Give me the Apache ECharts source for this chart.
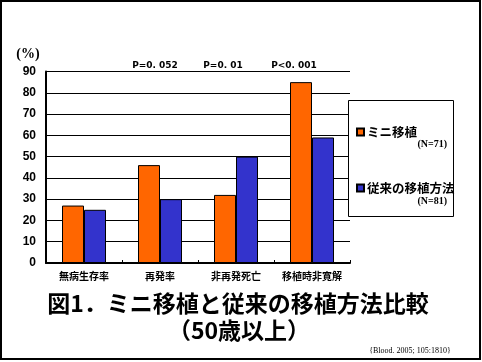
<!DOCTYPE html>
<html><head><meta charset="utf-8">
<script src="https://cdn.jsdelivr.net/npm/echarts@6/dist/echarts.min.js"></script>
<style>html,body{margin:0;padding:0;background:#fff}#c{width:482px;height:362px}</style>
</head><body><div id="c"></div>
<script>
const categories = ['無病生存率', '再発率', '非再発死亡', '移植時非寛解'];
const miniValues = [27, 46, 32, 85];
const convValues = [25, 30, 50, 59];
const seriesNames = ['ミニ移植', '従来の移植方法'];
const nLabels = ['(N=71)', '(N=81)'];
const pLabels = ['P=0. 052', 'P=0. 01', 'P<0. 001'];
const yMin = 0, yMax = 90, yStep = 10;

const chart = echarts.init(document.getElementById('c'), null, {renderer: 'canvas'});
const jp = '"Noto Sans CJK JP", sans-serif';
chart.setOption({
  animation: false,
  backgroundColor: '#fff',
  grid: {left: 46, right: 132, top: 71.5, bottom: 99, containLabel: false},
  xAxis: {
    type: 'category', data: categories,
    axisLine: {lineStyle: {color: '#000', width: 2}},
    axisTick: {show: true, inside: true, length: 3, lineStyle: {color: '#000'}},
    axisLabel: {interval: 0, color: '#000', fontFamily: jp, fontWeight: 'bold', fontSize: 10, margin: 8}
  },
  yAxis: {
    type: 'value', min: yMin, max: yMax, interval: yStep,
    axisLine: {show: true, lineStyle: {color: '#000', width: 2}},
    axisTick: {show: false},
    splitLine: {lineStyle: {color: '#000', width: 1}},
    axisLabel: {color: '#000', fontFamily: '"Liberation Sans", Arial, sans-serif', fontWeight: 'bold', fontSize: 12, margin: 10}
  },
  legend: {
    orient: 'vertical', left: 351, top: 120, z: 5,
    itemWidth: 7, itemHeight: 7, itemGap: 42,
    icon: 'rect',
    textStyle: {color: '#000', fontFamily: jp, fontWeight: 'bold', fontSize: 12.5, lineHeight: 14, padding: [0,0,0,-2]},
    data: seriesNames
  },
  series: [
    {name: seriesNames[0], type: 'bar', data: miniValues, barWidth: 22, barGap: '0%',
     itemStyle: {color: '#FF6600', borderColor: '#000', borderWidth: 1}},
    {name: seriesNames[1], type: 'bar', data: convValues, barWidth: 22,
     itemStyle: {color: '#3333CC', borderColor: '#000', borderWidth: 1}}
  ],
  graphic: [
    {type: 'rect', z: 0, shape: {x: 1, y: 1, width: 479, height: 358}, style: {fill: 'none', stroke: '#000', lineWidth: 2}},
    {type: 'rect', z: 4, shape: {x: 348.5, y: 100.5, width: 105, height: 116}, style: {fill: '#fff', stroke: '#000', lineWidth: 1}},
    {type: 'text', z: 6, style: {x: 447, y: 144, text: nLabels[0], textAlign: 'right', textVerticalAlign: 'middle', font: 'bold 10px "Liberation Serif", serif', fill: '#000'}},
    {type: 'text', z: 6, style: {x: 447, y: 201, text: nLabels[1], textAlign: 'right', textVerticalAlign: 'middle', font: 'bold 10px "Liberation Serif", serif', fill: '#000'}},
    {type: 'text', style: {x: 28, y: 54, text: '(%)', textAlign: 'center', textVerticalAlign: 'middle', font: 'bold 14px "Liberation Serif", serif', fill: '#000'}},
    {type: 'text', style: {x: 155, y: 66, text: pLabels[0], textAlign: 'center', textVerticalAlign: 'middle', font: 'bold 9px "DejaVu Sans", sans-serif', fill: '#000'}},
    {type: 'text', style: {x: 223, y: 66, text: pLabels[1], textAlign: 'center', textVerticalAlign: 'middle', font: 'bold 9px "DejaVu Sans", sans-serif', fill: '#000'}},
    {type: 'text', style: {x: 294, y: 66, text: pLabels[2], textAlign: 'center', textVerticalAlign: 'middle', font: 'bold 9px "DejaVu Sans", sans-serif', fill: '#000'}},
    {type: 'text', style: {x: 238, y: 303, text: '図1．ミニ移植と従来の移植方法比較', textAlign: 'center', textVerticalAlign: 'middle', font: 'bold 23px "Noto Sans CJK JP", sans-serif', fill: '#000'}},
    {type: 'text', style: {x: 239, y: 330, text: '（50歳以上）', textAlign: 'center', textVerticalAlign: 'middle', font: 'bold 23px "Noto Sans CJK JP", sans-serif', fill: '#000'}},
    {type: 'text', style: {x: 410, y: 351, text: '{Blood. 2005; 105:1810}', textAlign: 'center', textVerticalAlign: 'middle', font: '8px "Liberation Serif", serif', fill: '#000'}}
  ]
});
</script></body></html>
